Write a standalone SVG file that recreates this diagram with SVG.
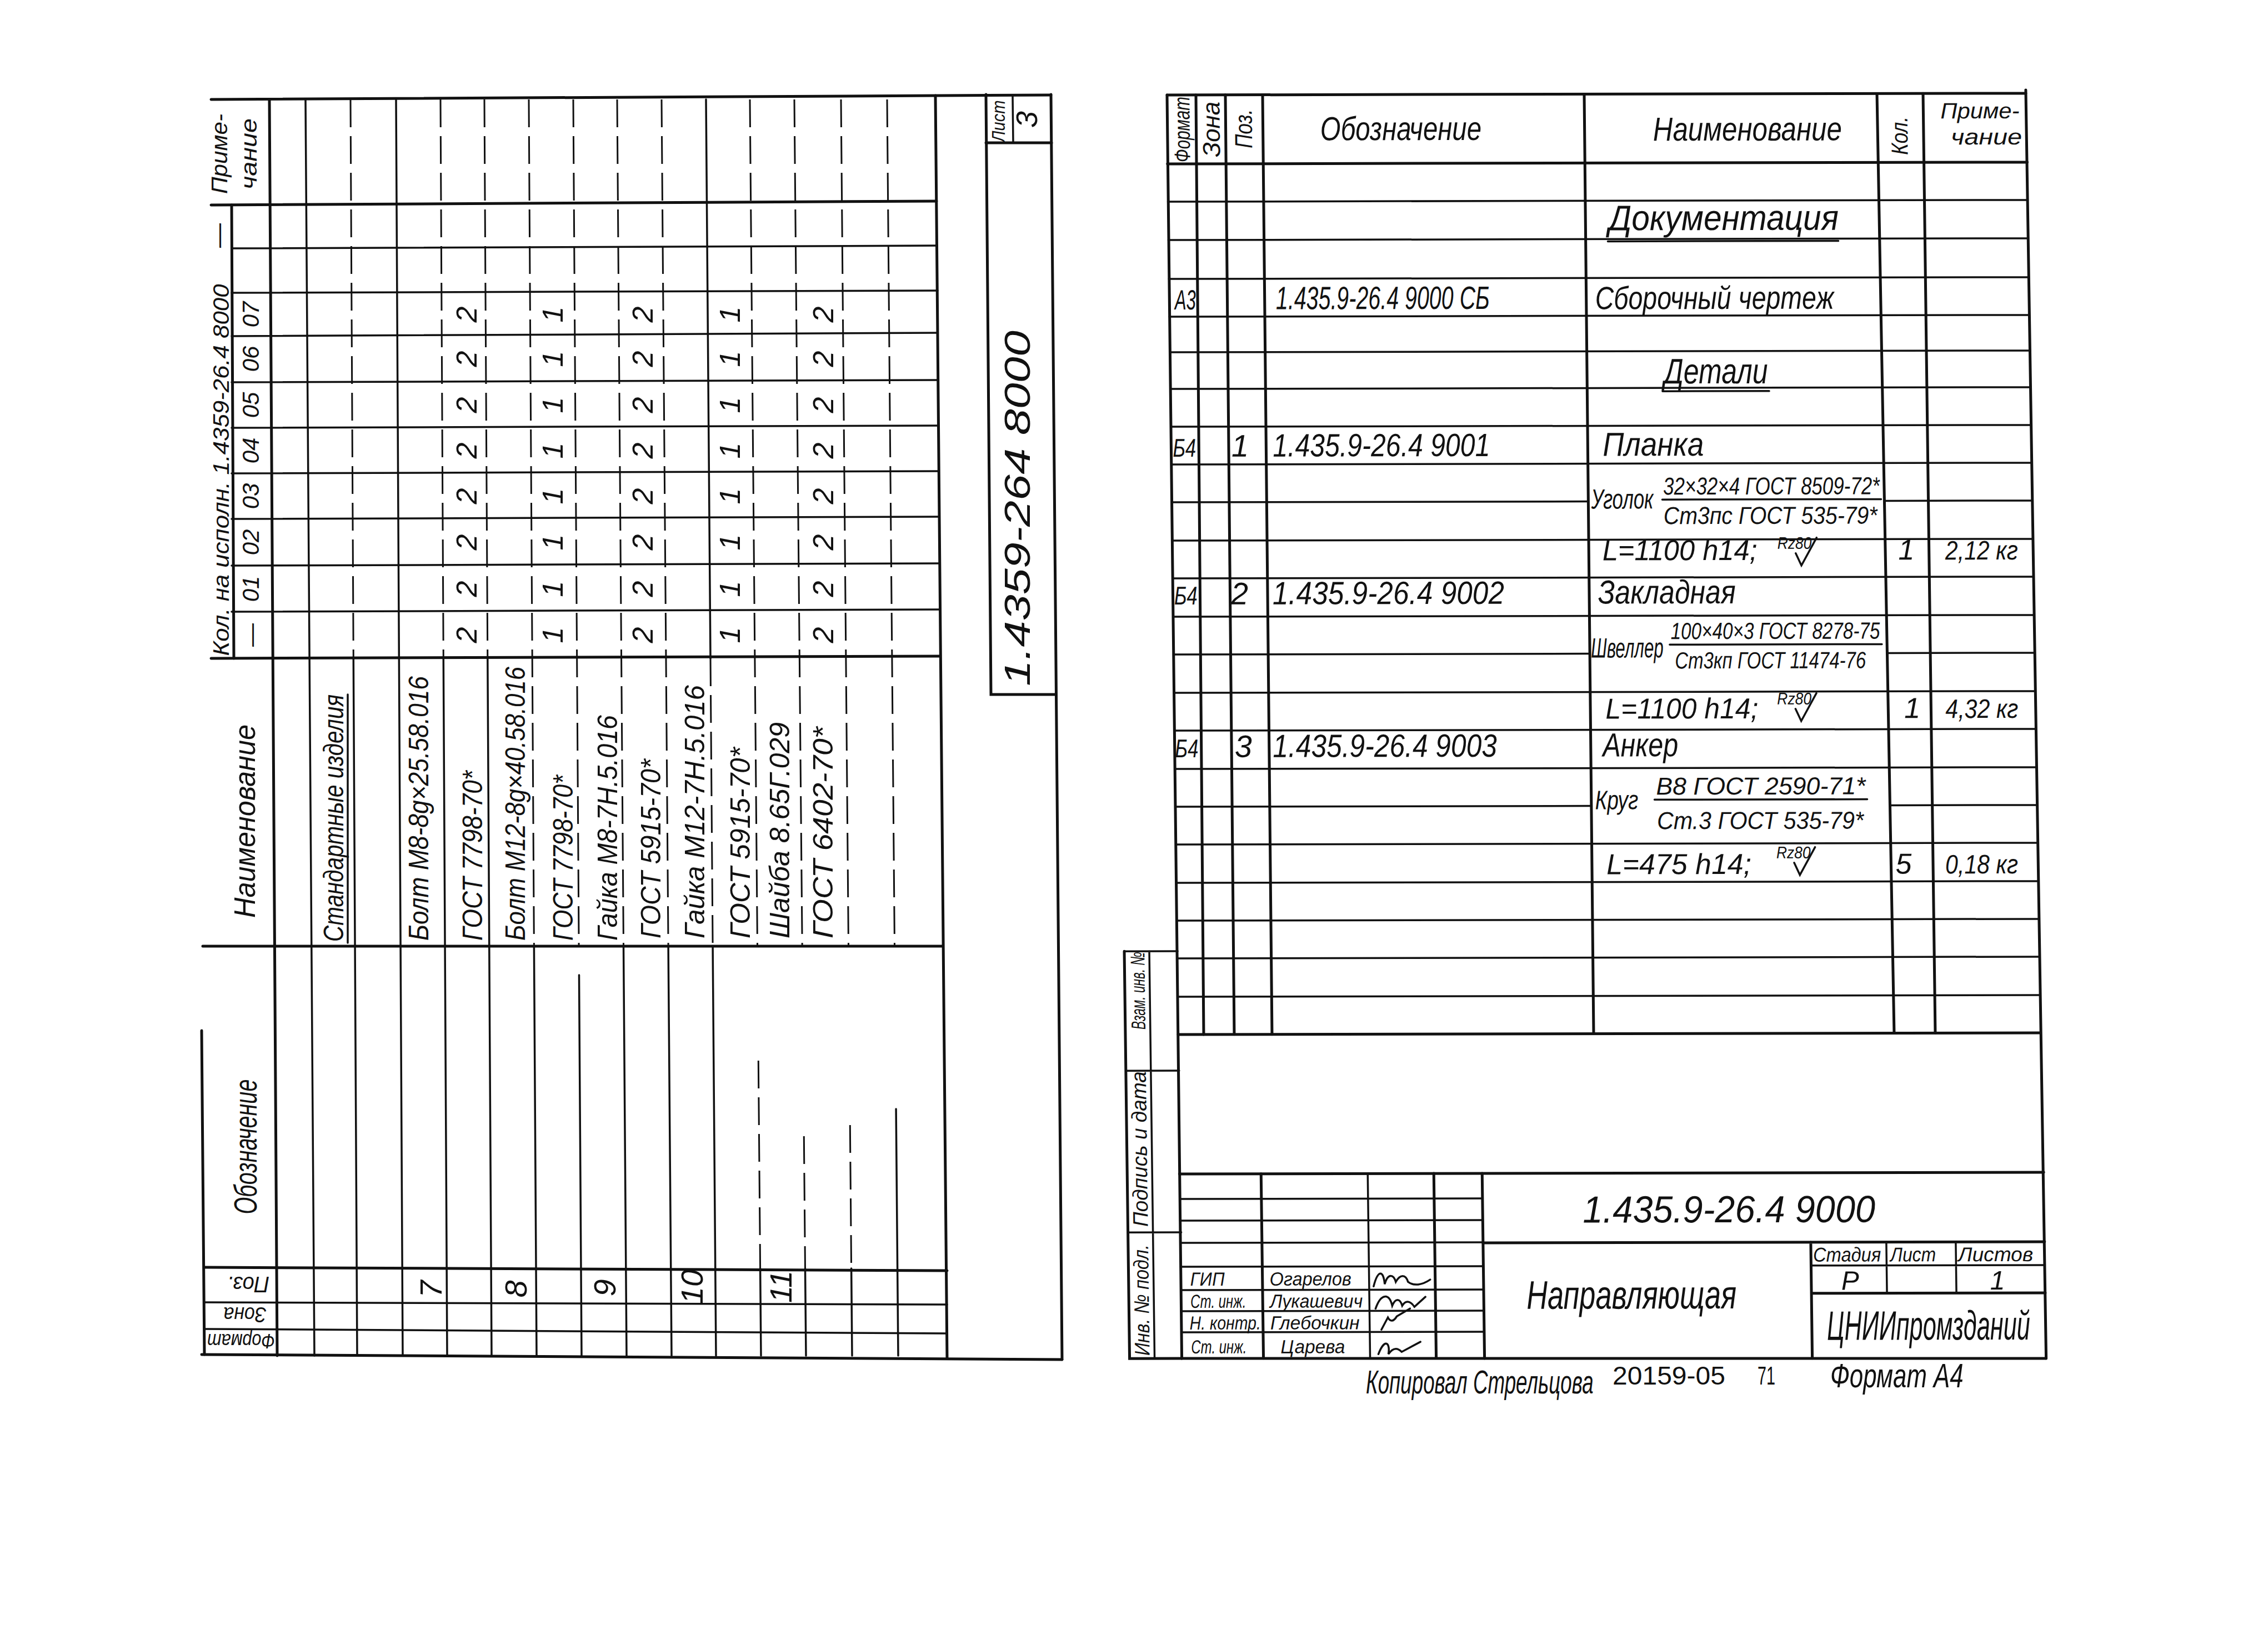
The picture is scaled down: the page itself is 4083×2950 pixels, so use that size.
<svg xmlns="http://www.w3.org/2000/svg" width="4083" height="2950" viewBox="0 0 4083 2950">
<style>
.t{font-family:'Liberation Sans',Arial,sans-serif;font-style:italic;fill:#111}
.p{font-family:'Liberation Sans',Arial,sans-serif;fill:#111}
.m{text-anchor:middle}
.k{stroke:#111;stroke-width:5;fill:none;stroke-linecap:round}
.n{stroke:#111;stroke-width:3.5;fill:none;stroke-linecap:round}
.d{stroke:#111;stroke-width:3;fill:none;stroke-dasharray:50 16}
</style>
<rect width="4083" height="2950" fill="#fff"/>

<g id="left-sheet">
<g id="left-grid">
<path class="k" d="M380,179 L1892,171"/>
<path class="k" d="M380,369 L1686,362"/>
<path class="n" d="M417,447 L1687,442 M417,527 L1688,523 M417,605 L1688,599 M417,688 L1689,684 M417,770 L1689,766 M417,852 L1690,848 M417,934 L1690,930 M417,1018 L1691,1014 M417,1101 L1691,1097"/>
<path class="k" d="M380,1185 L1692,1181"/>
<path class="k" d="M365,1703 L1697,1703"/>
<path class="k" d="M368,2281 L1705,2287"/>
<path class="n" d="M368,2344 L1705,2348 M368,2392 L1705,2400"/>
<path class="k" d="M363,2438 L1912,2447"/>
<path class="k" d="M363,1855 L368,2438"/>
<path class="k" d="M417,369 L421,1185"/>
<path class="k" d="M485,179 L499,2440"/>
<path class="n" d="M550,179 L566,2440"/>
<path class="d" d="M631,179 L636.3,1185"/><path class="n" d="M636.3,1185 L643,2440"/>
<path class="n" d="M713,179 L725,2440"/>
<path class="d" d="M793,179 L798.3,1185"/><path class="n" d="M798.3,1185 L805,2440"/>
<path class="d" d="M872,179 L877.8,1185"/><path class="n" d="M877.8,1185 L885,2440"/>
<path class="d" d="M952,179 L961.4,1703"/><path class="n" d="M961.4,1703 L966,2440"/>
<path class="d" d="M1032,179 L1042.1,1703"/><path class="n" d="M1042.5,1755 L1047,2440"/>
<path class="d" d="M1111,179 L1122.5,1703"/><path class="n" d="M1122.5,1703 L1128,2440"/>
<path class="d" d="M1191,179 L1203.1,1703"/><path class="n" d="M1203.1,1703 L1209,2440"/>
<path class="n" d="M1271,179 L1279,1185"/><path class="d" d="M1279,1185 L1283.1,1703"/><path class="n" d="M1283.1,1703 L1289,2440"/>
<path class="d" d="M1350,179 L1363.5,1703 M1365.3,1909 L1368.6,2283"/><path class="n" d="M1368.6,2283 L1370,2440"/>
<path class="d" d="M1430,179 L1444.2,1703 M1447.3,2045 L1449.5,2283"/><path class="n" d="M1449.5,2283 L1451,2440"/>
<path class="d" d="M1514,179 L1527.5,1703 M1530.3,2025 L1532.6,2283"/><path class="n" d="M1532.6,2283 L1534,2440"/>
<path class="d" d="M1597,179 L1610.5,1703"/><path class="n" d="M1613.1,1996 L1617,2440"/>
<path class="k" d="M1684,172 L1705,2444"/>
<path class="k" d="M1892,170 L1912,2447"/>
<path class="k" d="M1775,170 L1784,1250 L1900,1250"/>
<path class="k" d="M1775,257 L1893,257"/>
<path class="n" d="M1823,172 L1824,257"/>
<path class="n" d="M626,1697 L626,1250"/>
</g>
<g id="left-text" class="t">
<text transform="translate(394.5 277) rotate(-90)" y="14" class="m" font-size="40" textLength="144" lengthAdjust="spacingAndGlyphs">Приме-</text>
<text transform="translate(448 277) rotate(-90)" y="14" class="m" font-size="40" textLength="128" lengthAdjust="spacingAndGlyphs">чание</text>
<text transform="translate(393 424) rotate(-90)" y="15" class="m" font-size="44">—</text>
<text transform="translate(398 846) rotate(-90)" y="14" class="m" font-size="40" textLength="669" lengthAdjust="spacingAndGlyphs">Кол. на исполн. 1.4359-26.4 8000</text>
<g font-size="42" class="m">
<text transform="translate(451 566) rotate(-90)" y="15">07</text>
<text transform="translate(451 646) rotate(-90)" y="15">06</text>
<text transform="translate(451 729) rotate(-90)" y="15">05</text>
<text transform="translate(451 811) rotate(-90)" y="15">04</text>
<text transform="translate(451 893) rotate(-90)" y="15">03</text>
<text transform="translate(451 976) rotate(-90)" y="15">02</text>
<text transform="translate(451 1060) rotate(-90)" y="15">01</text>
<text transform="translate(451 1143) rotate(-90)" y="15">—</text>
</g>
<g font-size="52" class="m">
<text transform="translate(840 566) rotate(-90)" y="18">2</text>
<text transform="translate(840 646) rotate(-90)" y="18">2</text>
<text transform="translate(840 729) rotate(-90)" y="18">2</text>
<text transform="translate(840 811) rotate(-90)" y="18">2</text>
<text transform="translate(840 893) rotate(-90)" y="18">2</text>
<text transform="translate(840 976) rotate(-90)" y="18">2</text>
<text transform="translate(840 1060) rotate(-90)" y="18">2</text>
<text transform="translate(840 1143) rotate(-90)" y="18">2</text>
<text transform="translate(995 566) rotate(-90)" y="18">1</text>
<text transform="translate(995 646) rotate(-90)" y="18">1</text>
<text transform="translate(995 729) rotate(-90)" y="18">1</text>
<text transform="translate(995 811) rotate(-90)" y="18">1</text>
<text transform="translate(995 893) rotate(-90)" y="18">1</text>
<text transform="translate(995 976) rotate(-90)" y="18">1</text>
<text transform="translate(995 1060) rotate(-90)" y="18">1</text>
<text transform="translate(995 1143) rotate(-90)" y="18">1</text>
<text transform="translate(1157 566) rotate(-90)" y="18">2</text>
<text transform="translate(1157 646) rotate(-90)" y="18">2</text>
<text transform="translate(1157 729) rotate(-90)" y="18">2</text>
<text transform="translate(1157 811) rotate(-90)" y="18">2</text>
<text transform="translate(1157 893) rotate(-90)" y="18">2</text>
<text transform="translate(1157 976) rotate(-90)" y="18">2</text>
<text transform="translate(1157 1060) rotate(-90)" y="18">2</text>
<text transform="translate(1157 1143) rotate(-90)" y="18">2</text>
<text transform="translate(1314 566) rotate(-90)" y="18">1</text>
<text transform="translate(1314 646) rotate(-90)" y="18">1</text>
<text transform="translate(1314 729) rotate(-90)" y="18">1</text>
<text transform="translate(1314 811) rotate(-90)" y="18">1</text>
<text transform="translate(1314 893) rotate(-90)" y="18">1</text>
<text transform="translate(1314 976) rotate(-90)" y="18">1</text>
<text transform="translate(1314 1060) rotate(-90)" y="18">1</text>
<text transform="translate(1314 1143) rotate(-90)" y="18">1</text>
<text transform="translate(1482 566) rotate(-90)" y="18">2</text>
<text transform="translate(1482 646) rotate(-90)" y="18">2</text>
<text transform="translate(1482 729) rotate(-90)" y="18">2</text>
<text transform="translate(1482 811) rotate(-90)" y="18">2</text>
<text transform="translate(1482 893) rotate(-90)" y="18">2</text>
<text transform="translate(1482 976) rotate(-90)" y="18">2</text>
<text transform="translate(1482 1060) rotate(-90)" y="18">2</text>
<text transform="translate(1482 1143) rotate(-90)" y="18">2</text>
</g>
<text transform="translate(440 1478) rotate(-90)" y="19" class="m" font-size="54" textLength="348" lengthAdjust="spacingAndGlyphs">Наименование</text>
<text transform="translate(442 2064) rotate(-90)" y="20" class="m" font-size="58" textLength="243" lengthAdjust="spacingAndGlyphs">Обозначение</text>
<g font-size="50">
<text transform="translate(618 1695) rotate(-90)" textLength="445" lengthAdjust="spacingAndGlyphs">Стандартные изделия</text>
<text transform="translate(771 1693) rotate(-90)" textLength="476" lengthAdjust="spacingAndGlyphs">Болт М8-8g×25.58.016</text>
<text transform="translate(868 1693) rotate(-90)" textLength="306" lengthAdjust="spacingAndGlyphs">ГОСТ 7798-70*</text>
<text transform="translate(945 1693) rotate(-90)" textLength="493" lengthAdjust="spacingAndGlyphs">Болт М12-8g×40.58.016</text>
<text transform="translate(1031 1693) rotate(-90)" textLength="298" lengthAdjust="spacingAndGlyphs">ГОСТ 7798-70*</text>
<text transform="translate(1111 1693) rotate(-90)" textLength="406" lengthAdjust="spacingAndGlyphs">Гайка М8-7Н.5.016</text>
<text transform="translate(1189 1689) rotate(-90)" textLength="323" lengthAdjust="spacingAndGlyphs">ГОСТ 5915-70*</text>
<text transform="translate(1268 1689) rotate(-90)" textLength="456" lengthAdjust="spacingAndGlyphs">Гайка М12-7Н.5.016</text>
<text transform="translate(1350 1689) rotate(-90)" textLength="344" lengthAdjust="spacingAndGlyphs">ГОСТ 5915-70*</text>
<text transform="translate(1421 1689) rotate(-90)" textLength="389" lengthAdjust="spacingAndGlyphs">Шайба 8.65Г.029</text>
<text transform="translate(1499 1689) rotate(-90)" textLength="381" lengthAdjust="spacingAndGlyphs">ГОСТ 6402-70*</text>
</g>
<g font-size="56" class="m">
<text transform="translate(775 2320) rotate(-90)" y="20">7</text>
<text transform="translate(928 2320) rotate(-90)" y="20">8</text>
<text transform="translate(1088 2318) rotate(-90)" y="20">9</text>
<text transform="translate(1245 2316) rotate(-90)" y="20">10</text>
<text transform="translate(1405 2316) rotate(-90)" y="20">11</text>
</g>
<text transform="translate(447 2312) rotate(180)" y="14" class="m" font-size="40" textLength="76" lengthAdjust="spacingAndGlyphs">Поз.</text>
<text transform="translate(441 2366) rotate(180)" y="13" class="m" font-size="38" textLength="77" lengthAdjust="spacingAndGlyphs">Зона</text>
<text transform="translate(434 2414) rotate(180)" y="13" class="m" font-size="36" textLength="122" lengthAdjust="spacingAndGlyphs">Формат</text>
<text transform="translate(1832 915) rotate(-90)" y="22" class="m" font-size="64" textLength="640" lengthAdjust="spacingAndGlyphs">1.4359-264 8000</text>
<text transform="translate(1797 218) rotate(-90)" y="12" class="m" font-size="34" textLength="75" lengthAdjust="spacingAndGlyphs">Лист</text>
<text transform="translate(1848 215) rotate(-90)" y="19" class="m" font-size="54">3</text>
</g>
</g>

<g id="right-sheet" transform="matrix(1 -0.002 0.013 1 -2.223 4.2)">
<g id="right-grid">
<path class="k" d="M2101,171 L2098,2445"/>
<path class="k" d="M3647,165 L3654,2448"/>
<path class="k" d="M2101,171 L3647,171 M2100,295 L3648,295"/>
<path class="k" d="M2153,171 L2145,1862 M2206,171 L2200,1862 M2273,171 L2268,1862 M2852,171 L2847,1862 M3379,171 L3388,1862 M3462,171 L3462,1862"/>
<path class="n" d="M2100,363 L3648,363 M2100,432 L3648,432 M2100,502 L3648,502 M2100,570 L3648,570 M2100,634 L3649,634 M2100,700 L3649,700 M2100,768 L3649,768 M2100,836 L3649,836 M2100,973 L3649,973 M2100,1041 L3649,1041 M2100,1110 L3649,1110 M2100,1247 L3650,1247 M2100,1315 L3650,1315 M2100,1384 L3650,1384 M2100,1520 L3650,1520 M2100,1589 L3650,1589 M2100,1657 L3651,1657 M2100,1725 L3651,1725 M2100,1794 L3651,1794"/>
<path class="n" d="M2100,904 L2850,904 M3383,904 L3649,904 M2100,1178 L2849,1178 M3385,1178 L3650,1178 M2100,1452 L2848,1452 M3387,1452 L3650,1452"/>
<path class="k" d="M2099,1862 L3651,1862"/>
<path class="k" d="M2098,2113 L3654,2113"/>
<path class="n" d="M2098,2158 L2643,2158 M2098,2197 L2643,2197 M2098,2237 L2643,2237 M2098,2280 L2643,2280 M2098,2322 L2643,2322 M2098,2360 L2643,2360 M2098,2398 L2643,2398"/>
<path class="k" d="M2245,2113 L2245,2445 M2556,2113 L2556,2445 M2643,2113 L2643,2446"/>
<path class="n" d="M2437,2113 L2437,2445"/>
<path class="k" d="M2643,2238 L3654,2238 M3233,2238 L3233,2447 M3233,2330 L3654,2330"/>
<path class="n" d="M3233,2280 L3654,2280 M3369,2238 L3369,2330 M3494,2238 L3494,2330"/>
<path class="k" d="M2098,2445 L3654,2448"/>
<path class="k" d="M2004,1712 L2004,2445 L2098,2445"/>
<path class="n" d="M2049,1712 L2049,2445 M2004,1712 L2100,1712 M2004,1927 L2100,1927 M2004,2218 L2100,2218"/>
<path class="n" d="M2891,436 L3306,436 M2986,706 L3178,706"/>
<path class="n" d="M2983,901 L3377,901 M2993,1162 L3375,1162 M2962,1441 L3345,1441"/>
<path class="n" d="M3222,998 l10,22 l28,-50 M3218,1278 l10,22 l28,-50 M3212,1555 l10,22 l28,-50"/>
<path class="n" d="M2445,2316 c8,-30 18,-30 20,-4 c6,-20 16,-18 20,-4 c8,-14 18,-14 22,0 c10,8 25,6 40,-4"/>
<path class="n" d="M2448,2356 c10,-28 25,-28 30,-5 c6,-14 14,-14 18,0 c6,-10 14,-10 22,2 l20,-18"/>
<path class="n" d="M2458,2394 l12,-22 c4,8 10,8 16,-2 l24,-14"/>
<path class="n" d="M2452,2438 c12,-30 22,-20 18,0 c10,-14 18,-10 24,-4 l34,-18"/>
</g>
<g id="right-text" class="t">
<text transform="translate(2127 233) rotate(-90)" y="14" class="m" font-size="40" textLength="118" lengthAdjust="spacingAndGlyphs">Формат</text>
<text transform="translate(2180 233) rotate(-90)" y="15" class="m" font-size="44" textLength="100" lengthAdjust="spacingAndGlyphs">Зона</text>
<text transform="translate(2238 232) rotate(-90)" y="15" class="m" font-size="44" textLength="70" lengthAdjust="spacingAndGlyphs">Поз.</text>
<text transform="translate(3418 247) rotate(-90)" y="15" class="m" font-size="42" textLength="69" lengthAdjust="spacingAndGlyphs">Кол.</text>
<text transform="translate(2376 253) scale(0.78 1)" font-size="60" textLength="372" lengthAdjust="spacingAndGlyphs">Обозначение</text>
<text transform="translate(2975 255) scale(0.8 1)" font-size="60" textLength="425" lengthAdjust="spacingAndGlyphs">Наименование</text>
<text x="3493" y="216" font-size="40" textLength="142" lengthAdjust="spacingAndGlyphs">Приме-</text>
<text x="3511" y="263" font-size="40" textLength="128" lengthAdjust="spacingAndGlyphs">чание</text>
<text x="2893" y="416" font-size="64" textLength="414" lengthAdjust="spacingAndGlyphs">Документация</text>
<text x="2110" y="557" font-size="50" textLength="38" lengthAdjust="spacingAndGlyphs">А3</text>
<text transform="translate(2292 557) scale(0.7 1)" font-size="58" textLength="550" lengthAdjust="spacingAndGlyphs">1.435.9-26.4 9000 СБ</text>
<text transform="translate(2867 558) scale(0.8 1)" font-size="58" textLength="537" lengthAdjust="spacingAndGlyphs">Сборочный чертеж</text>
<text x="2989" y="692" font-size="64" textLength="187" lengthAdjust="spacingAndGlyphs">Детали</text>
<text x="2103" y="822" font-size="46" textLength="42" lengthAdjust="spacingAndGlyphs">Б4</text>
<text x="2224" y="822" class="m" font-size="56">1</text>
<text transform="translate(2283 822) scale(0.8 1)" font-size="58" textLength="489" lengthAdjust="spacingAndGlyphs">1.435.9-26.4 9001</text>
<text x="2877" y="822" font-size="60" textLength="182" lengthAdjust="spacingAndGlyphs">Планка</text>
<text transform="translate(2855 917) scale(0.7 1)" font-size="50" textLength="160" lengthAdjust="spacingAndGlyphs">Уголок</text>
<text transform="translate(2985 892) scale(0.8 1)" font-size="44" textLength="487" lengthAdjust="spacingAndGlyphs">32×32×4 ГОСТ 8509-72*</text>
<text transform="translate(2985 945) scale(0.8 1)" font-size="44" textLength="481" lengthAdjust="spacingAndGlyphs">Ст3пс ГОСТ 535-79*</text>
<text x="2874" y="1010" font-size="52" textLength="279" lengthAdjust="spacingAndGlyphs">L=1100 h14;</text>
<text x="3189" y="990" font-size="30" textLength="62" lengthAdjust="spacingAndGlyphs">Rz80</text>
<text x="3421" y="1010" class="m" font-size="52">1</text>
<text x="3491" y="1010" font-size="48" textLength="131" lengthAdjust="spacingAndGlyphs">2,12 кг</text>
<text x="2102" y="1088" font-size="46" textLength="42" lengthAdjust="spacingAndGlyphs">Б4</text>
<text x="2220" y="1088" class="m" font-size="56">2</text>
<text transform="translate(2279 1088) scale(0.85 1)" font-size="58" textLength="491" lengthAdjust="spacingAndGlyphs">1.435.9-26.4 9002</text>
<text x="2865" y="1088" font-size="60" textLength="248" lengthAdjust="spacingAndGlyphs">Закладная</text>
<text transform="translate(2851 1185) scale(0.62 1)" font-size="50" textLength="211" lengthAdjust="spacingAndGlyphs">Швеллер</text>
<text transform="translate(2995 1152) scale(0.8 1)" font-size="42" textLength="471" lengthAdjust="spacingAndGlyphs">100×40×3 ГОСТ 8278-75</text>
<text transform="translate(3002 1205) scale(0.8 1)" font-size="42" textLength="430" lengthAdjust="spacingAndGlyphs">Ст3кп ГОСТ 11474-76</text>
<text x="2876" y="1295" font-size="52" textLength="275" lengthAdjust="spacingAndGlyphs">L=1100 h14;</text>
<text x="3185" y="1270" font-size="30" textLength="62" lengthAdjust="spacingAndGlyphs">Rz80</text>
<text x="3428" y="1295" class="m" font-size="52">1</text>
<text x="3488" y="1295" font-size="48" textLength="131" lengthAdjust="spacingAndGlyphs">4,32 кг</text>
<text x="2100" y="1363" font-size="46" textLength="42" lengthAdjust="spacingAndGlyphs">Б4</text>
<text x="2223" y="1363" class="m" font-size="56">3</text>
<text transform="translate(2276 1363) scale(0.85 1)" font-size="58" textLength="475" lengthAdjust="spacingAndGlyphs">1.435.9-26.4 9003</text>
<text x="2870" y="1363" font-size="60" textLength="136" lengthAdjust="spacingAndGlyphs">Анкер</text>
<text transform="translate(2855 1458) scale(0.72 1)" font-size="48" textLength="108" lengthAdjust="spacingAndGlyphs">Круг</text>
<text transform="translate(2965 1432) scale(0.85 1)" font-size="44" textLength="444" lengthAdjust="spacingAndGlyphs">В8 ГОСТ 2590-71*</text>
<text transform="translate(2966 1494) scale(0.8 1)" font-size="44" textLength="465" lengthAdjust="spacingAndGlyphs">Ст.3 ГОСТ 535-79*</text>
<text x="2874" y="1575" font-size="52" textLength="261" lengthAdjust="spacingAndGlyphs">L=475 h14;</text>
<text x="3180" y="1547" font-size="30" textLength="62" lengthAdjust="spacingAndGlyphs">Rz80</text>
<text x="3409" y="1575" class="m" font-size="52">5</text>
<text x="3484" y="1575" font-size="48" textLength="131" lengthAdjust="spacingAndGlyphs">0,18 кг</text>
<text transform="translate(2027 1783) rotate(-90)" y="13" class="m" font-size="36" textLength="140" lengthAdjust="spacingAndGlyphs">Взам. инв. №</text>
<text transform="translate(2027 2068) rotate(-90)" y="13" class="m" font-size="38" textLength="280" lengthAdjust="spacingAndGlyphs">Подпись и дата</text>
<text transform="translate(2027 2340) rotate(-90)" y="13" class="m" font-size="38" textLength="200" lengthAdjust="spacingAndGlyphs">Инв. № подл.</text>
<g font-size="34">
<text x="2115" y="2314" textLength="62" lengthAdjust="spacingAndGlyphs">ГИП</text>
<text x="2115" y="2354" textLength="100" lengthAdjust="spacingAndGlyphs">Ст. инж.</text>
<text x="2113" y="2393" textLength="128" lengthAdjust="spacingAndGlyphs">Н. контр.</text>
<text x="2115" y="2436" textLength="100" lengthAdjust="spacingAndGlyphs">Ст. инж.</text>
<text x="2258" y="2314" textLength="147" lengthAdjust="spacingAndGlyphs">Огарелов</text>
<text x="2258" y="2354" textLength="167" lengthAdjust="spacingAndGlyphs">Лукашевич</text>
<text x="2258" y="2393" textLength="161" lengthAdjust="spacingAndGlyphs">Глебочкин</text>
<text x="2276" y="2436" textLength="116" lengthAdjust="spacingAndGlyphs">Царева</text>
</g>
<text x="2823" y="2202" font-size="68" textLength="527" lengthAdjust="spacingAndGlyphs">1.435.9-26.4 9000</text>
<text transform="translate(2720 2357) scale(0.72 1)" font-size="72" textLength="525" lengthAdjust="spacingAndGlyphs">Направляющая</text>
<text x="3237" y="2273" font-size="36" textLength="122" lengthAdjust="spacingAndGlyphs">Стадия</text>
<text x="3376" y="2273" font-size="36" textLength="82" lengthAdjust="spacingAndGlyphs">Лист</text>
<text x="3498" y="2273" font-size="36" textLength="135" lengthAdjust="spacingAndGlyphs">Листов</text>
<text x="3303" y="2324" class="m" font-size="48">Р</text>
<text x="3568" y="2324" class="m" font-size="48">1</text>
<text transform="translate(3260 2414) scale(0.6 1)" font-size="74" textLength="610" lengthAdjust="spacingAndGlyphs">ЦНИИпромзданий</text>
</g>
</g>

<g id="footer">
<text class="t" transform="translate(2459 2508) scale(0.64 1)" font-size="60" textLength="640" lengthAdjust="spacingAndGlyphs">Копировал Стрельцова</text>
<text class="p" x="2903" y="2492" font-size="46" textLength="203" lengthAdjust="spacingAndGlyphs">20159-05</text>
<text class="p" x="3164" y="2492" font-size="46" textLength="32" lengthAdjust="spacingAndGlyphs">71</text>
<text class="t" transform="translate(3295 2497) scale(0.85 1)" font-size="62" textLength="282" lengthAdjust="spacingAndGlyphs">Формат А4</text>
</g>
</svg>
